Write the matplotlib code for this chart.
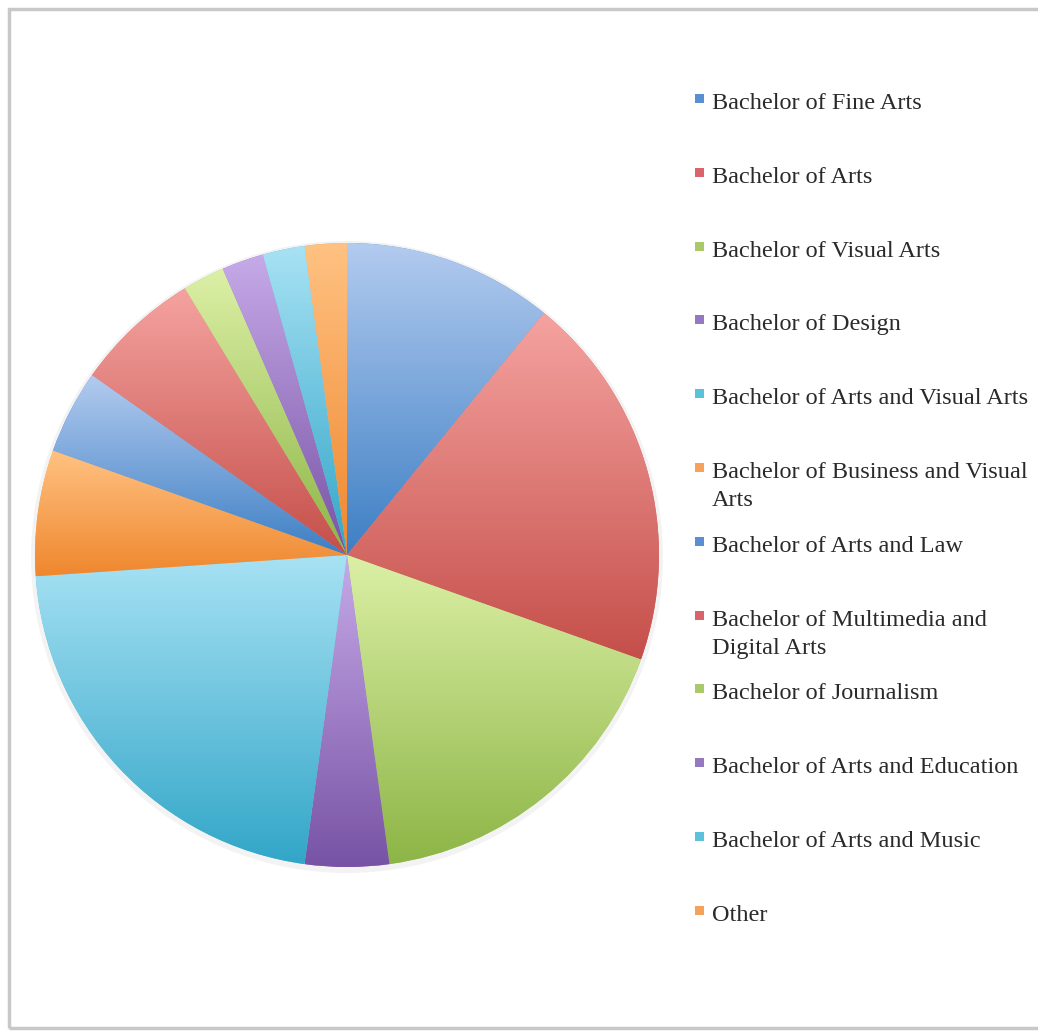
import numpy as np
import matplotlib.pyplot as plt
from matplotlib.colors import LinearSegmentedColormap
from matplotlib.patches import Rectangle, Circle

# degree programs and number of respondents
programs = [
    "Bachelor of Fine Arts",
    "Bachelor of Arts",
    "Bachelor of Visual Arts",
    "Bachelor of Design",
    "Bachelor of Arts and Visual Arts",
    "Bachelor of Business and Visual\nArts",
    "Bachelor of Arts and Law",
    "Bachelor of Multimedia and\nDigital Arts",
    "Bachelor of Journalism",
    "Bachelor of Arts and Education",
    "Bachelor of Arts and Music",
    "Other",
]
counts = [5, 9, 8, 2, 10, 3, 2, 3, 1, 1, 1, 1]

# gradient ends (light top -> darker bottom) per theme colour
light = {"blue": "#b3cbef", "red": "#f5a3a0", "green": "#dcf0a6",
         "purple": "#c6aae8", "cyan": "#a8e2f4", "orange": "#ffc282"}
dark = {"blue": "#3d7fc4", "red": "#c54f4a", "green": "#8db546",
        "purple": "#7853a5", "cyan": "#32a6c8", "orange": "#ef872e"}
swatch = {"blue": "#5b8fd3", "red": "#d9646a", "green": "#a9c96a",
          "purple": "#9478c0", "cyan": "#5cc2dc", "orange": "#f7a25a"}
order = ["blue", "red", "green", "purple", "cyan", "orange"] * 2

W, H = 1038, 1032
fig = plt.figure(figsize=(W / 100, H / 100), dpi=100)
ax = fig.add_axes([0, 0, 1, 1])

cx, cy, R = 347, H - 555, 312
ax.add_patch(Circle((cx, cy - 2), R + 4, color="#f3f3f3", zorder=0, lw=0))
wedges, _ = ax.pie(counts, startangle=90, counterclock=False, center=(cx, cy),
                   radius=R, colors=[swatch[c] for c in order],
                   wedgeprops=dict(linewidth=0))

grad = np.linspace(0, 1, 256).reshape(-1, 1)
for w, c in zip(wedges, order):
    bb = w.get_path().get_extents()
    cmap = LinearSegmentedColormap.from_list("g", [dark[c], light[c]])
    im = ax.imshow(grad, cmap=cmap, extent=(bb.x0, bb.x1, bb.y0, bb.y1),
                   origin="lower", aspect="auto", interpolation="bilinear", zorder=2)
    im.set_clip_path(w)

# legend drawn by hand to mimic the original layout
for i, (name, c) in enumerate(zip(programs, order)):
    yc = H - (101 + i * 73.8)
    ax.add_patch(Rectangle((695, yc - 2), 9, 9, color=swatch[c], lw=0, zorder=3))
    ax.text(712, yc + 8, name, fontsize=17.5, family="Liberation Serif",
            color="#2a2a2a", va="top", ha="left", linespacing=1.45, zorder=3)

# light grey frame
ax.add_patch(Rectangle((9, 4), 1100, H - 13, fill=False, edgecolor="#c8c8c8",
                       lw=2.5, clip_on=False, zorder=4))

ax.set_xlim(0, W)
ax.set_ylim(0, H)
ax.set_aspect("equal")
ax.axis("off")

fig.savefig("out.png", dpi=100)
